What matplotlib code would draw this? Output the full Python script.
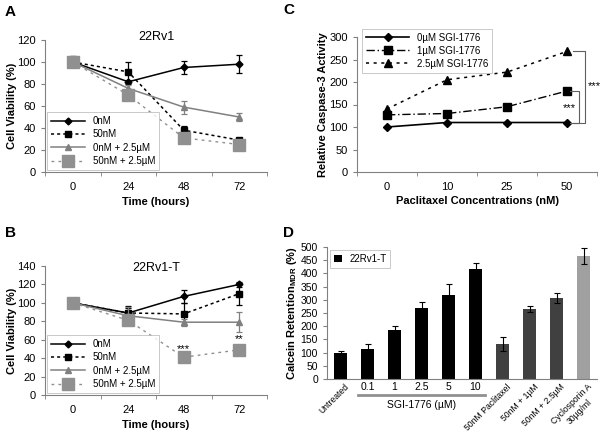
import numpy as np
import matplotlib.pyplot as plt

plt.rcParams['font.family'] = ['Liberation Sans', 'DejaVu Sans']

# panel A / B : cell viability
time_labels = ["0", "24", "48", "72"]
series_names = ["0nM", "50nM", "0nM + 2.5\u00b5M", "50nM + 2.5\u00b5M"]

a_vals = [[100, 82, 95, 98],
          [100, 91, 38, 29],
          [100, 76, 59, 50],
          [100, 70, 31, 25]]
a_err = [[5, 2, 6, 8],
         [3, 9, 4, 2],
         [3, 3, 6, 4],
         [5, 3, 2, 2]]

b_vals = [[100, 89, 107, 120],
          [100, 89, 88, 110],
          [100, 86, 79, 79],
          [100, 81, 41, 49]]
b_err = [[2, 5, 7, 3],
         [2, 8, 12, 12],
         [2, 10, 4, 11],
         [3, 4, 2, 5]]

# panel C : caspase-3
conc_labels = ["0", "10", "25", "50"]
c_names = ["0\u00b5M SGI-1776", "1\u00b5M SGI-1776", "2.5\u00b5M SGI-1776"]
c_vals = [[100, 110, 110, 110],
          [127, 130, 145, 180],
          [140, 205, 222, 268]]

# panel D : calcein retention
d_labels = ["Untreated", "0.1", "1", "2.5", "5", "10", "50nM Paclitaxel",
            "50nM + 1\u00b5M", "50nM + 2.5\u00b5M", "Cyclosporin A\n30\u00b5g/ml"]
d_vals = [100, 113, 187, 270, 318, 415, 133, 265, 307, 465]
d_err = [5, 20, 15, 20, 40, 25, 27, 10, 20, 30]
d_colors = ["black"] * 6 + ["#404040"] * 3 + ["#a0a0a0"]

styles = [dict(color="black", ls="-", marker="D", ms=3.5, lw=1.1),
          dict(color="black", ls=(0, (2, 2)), marker="s", ms=4.5, lw=1.1),
          dict(color="#808080", ls="-", marker="^", ms=5, lw=1.1),
          dict(color="#909090", ls=(0, (2, 3)), marker="s", ms=8, lw=1.0)]

W, H = 600, 433
fig = plt.figure(figsize=(6, 4.33), dpi=100)


def ax_px(l, t, r, b):
    return fig.add_axes([l / W, 1 - b / H, (r - l) / W, (b - t) / H])


def excel_style(ax):
    for s in ["top", "right"]:
        ax.spines[s].set_visible(False)
    ax.spines["left"].set_color("#808080")
    ax.spines["bottom"].set_color("#808080")
    ax.tick_params(axis="both", labelsize=8, colors="#808080", labelcolor="black",
                   length=3, width=0.8)


def viability(ax, vals, errs, ymax, title, title_y):
    x = np.arange(len(time_labels))
    for v, e, st, name in zip(vals, errs, styles, series_names):
        ax.errorbar(x, v, yerr=e, fmt="none", capsize=2.5, elinewidth=0.9,
                    capthick=0.9, ecolor=st["color"])
        ax.plot(x, v, mec=st["color"], mfc=st["color"], label=name, **st)
    ax.set_xlim(-0.5, 3.5)
    ax.set_ylim(0, ymax)
    ax.set_yticks(np.arange(0, ymax + 1, 20))
    ax.set_xticks(x)
    ax.set_xticklabels(time_labels)
    ax.set_xticks(np.arange(-0.5, 3.6, 1), minor=True)
    excel_style(ax)
    ax.tick_params(axis="x", which="major", length=0, pad=7)
    ax.tick_params(axis="x", which="minor", length=3, colors="#808080")
    ax.set_xlabel("Time (hours)", fontsize=8, fontweight="bold")
    ax.set_ylabel("Cell Viability (%)", fontsize=8, fontweight="bold", labelpad=0)
    ax.set_title(title, fontsize=9, y=title_y, pad=0)
    leg = ax.legend(loc="lower left", fontsize=7, frameon=True, fancybox=False,
                    handlelength=3.5, borderaxespad=0.2, labelspacing=0.35)
    leg.get_frame().set_edgecolor("#b0b0b0")
    leg.get_frame().set_linewidth(0.6)


axA = ax_px(45, 40, 267, 172)
viability(axA, a_vals, a_err, 120, "22Rv1", 1.0)

axB = ax_px(45, 266, 267, 395)
viability(axB, b_vals, b_err, 140, "22Rv1-T", 0.96)
axB.text(2, b_vals[3][2] + 3, "***", ha="center", va="bottom", fontsize=8)
axB.text(3, b_vals[3][3] + b_err[3][3] + 1, "**", ha="center", va="bottom", fontsize=8)

# panel C
axC = ax_px(357, 37, 597, 172)
xc = np.arange(len(conc_labels))
c_styles = [dict(color="black", ls="-", marker="D", ms=4, lw=1.2),
            dict(color="black", ls=(0, (6, 2, 1, 2)), marker="s", ms=6, lw=1.0),
            dict(color="black", ls=(0, (2, 3)), marker="^", ms=6, lw=1.1)]
for v, st, name in zip(c_vals, c_styles, c_names):
    axC.plot(xc, v, label=name, **st)
axC.set_xlim(-0.5, 3.5)
axC.set_ylim(0, 300)
axC.set_yticks(np.arange(0, 301, 50))
axC.set_xticks(xc)
axC.set_xticklabels(conc_labels)
axC.set_xticks(np.arange(-0.5, 3.6, 1), minor=True)
excel_style(axC)
axC.tick_params(axis="x", which="major", length=0, pad=7)
axC.tick_params(axis="x", which="minor", length=3, colors="#808080")
axC.set_xlabel("Paclitaxel Concentrations (nM)", fontsize=8, fontweight="bold", labelpad=3)
axC.set_ylabel("Relative Caspase-3 Activity", fontsize=8, fontweight="bold", labelpad=1)
leg = axC.legend(loc="upper left", fontsize=7, frameon=True, fancybox=False,
                 handlelength=4.5, borderaxespad=0.0, labelspacing=0.3,
                 bbox_to_anchor=(0.02, 1.06))
leg.get_frame().set_edgecolor("#b0b0b0")
leg.get_frame().set_linewidth(0.6)
# significance brackets
xo, xi = 3.3, 3.2
axC.plot([3.1, xo, xo, 3.1], [c_vals[0][3], c_vals[0][3], c_vals[2][3], c_vals[2][3]],
         color="#606060", lw=0.8, clip_on=False)
axC.plot([3.05, xi, xi, 3.05], [c_vals[0][3], c_vals[0][3], c_vals[1][3], c_vals[1][3]],
         color="#606060", lw=0.8, clip_on=False)
axC.text(xo + 0.05, 190, "***", fontsize=8, va="center", ha="left")
axC.text(xi - 0.05, 142, "***", fontsize=8, va="center", ha="right")

# panel D
axD = ax_px(327, 247, 597, 379)
xd = np.arange(len(d_labels))
axD.bar(xd, d_vals, width=0.5, color=d_colors, label="22Rv1-T",
        yerr=d_err, error_kw=dict(ecolor="black", elinewidth=0.8, capsize=2.5, capthick=0.8))
axD.set_xlim(-0.5, 9.5)
axD.set_ylim(0, 500)
axD.set_yticks(np.arange(0, 501, 50))
excel_style(axD)
axD.tick_params(axis="y", labelsize=7.5)
axD.set_xticks(xd)
axD.set_xticklabels([])
axD.tick_params(axis="x", length=0)
for i, lab in enumerate(d_labels):
    if 1 <= i <= 5:
        axD.text(i, -12, lab, ha="center", va="top", fontsize=7.5)
    else:
        axD.text(i + 0.15, -12, lab, ha="right", va="top", rotation=45,
                 fontsize=6.2, rotation_mode="anchor", multialignment="center")
axD.plot([0.65, 5.35], [-60, -60], color="#909090", lw=2, clip_on=False)
axD.text(3, -78, "SGI-1776 (\u00b5M)", ha="center", va="top", fontsize=7.5)
axD.set_ylabel("Calcein Retention$_{\\mathregular{MDR}}$ (%)", fontsize=8,
               fontweight="bold", labelpad=1)
leg = axD.legend(loc="upper left", fontsize=7, frameon=True, fancybox=False,
                 handlelength=0.8, handleheight=0.8, borderaxespad=0.3)
leg.get_frame().set_edgecolor("#b0b0b0")
leg.get_frame().set_linewidth(0.6)

# panel letters
for lab, x, y in [("A", 5, 12), ("B", 5, 233), ("C", 283, 10), ("D", 283, 233)]:
    fig.text(x / W, 1 - y / H, lab, fontsize=11, fontweight="bold", va="center")

fig.savefig("out.png", dpi=100)
